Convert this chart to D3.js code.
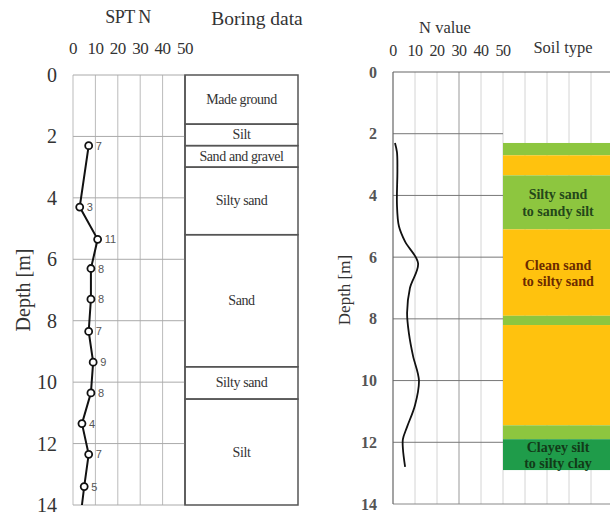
<!DOCTYPE html>
<html>
<head>
<style>
  body { margin: 0; background: #fff; }
</style>
</head>
<body>

<script src="https://cdn.jsdelivr.net/npm/d3@7"></script>
<script>

const width = 610;
const height = 515;
const serif = '"Liberation Serif", serif';

// SPT N profile (left)
const sptDepth = [2.3, 4.3, 5.35, 6.3, 7.3, 8.35, 9.35, 10.35, 11.35, 12.35, 13.4];
const sptN = [7, 3, 11, 8, 8, 7, 9, 8, 4, 7, 5];
const sptTail = {depth: 14, n: 4};

// boring log layers (left)
const boringTop = [0, 1.6, 2.3, 3.0, 5.2, 9.5, 10.55];
const boringBottom = [1.6, 2.3, 3.0, 5.2, 9.5, 10.55, 14];
const boringName = ['Made ground', 'Silt', 'Sand and gravel', 'Silty sand', 'Sand', 'Silty sand', 'Silt'];

// N value curve (right)
const nDepth = [2.3, 2.6, 3.2, 4.3, 5.0, 5.5, 6.2, 7.0, 7.8, 8.5, 9.2, 10.0, 10.8, 11.5, 11.9, 12.2, 12.8];
const nValue = [0.9, 1.8, 2.0, 1.8, 2.7, 5.5, 11.4, 7.7, 6.4, 7.3, 9.1, 11.8, 10.0, 6.4, 4.5, 4.5, 5.5];

// soil type column (right)
const soilTop = [2.3, 2.7, 3.35, 5.1, 7.9, 8.2, 11.45, 11.9];
const soilBottom = [2.7, 3.35, 5.1, 7.9, 8.2, 11.45, 11.9, 12.9];
const soilClass = ['silty', 'clean', 'silty', 'clean', 'silty', 'clean', 'silty', 'clay'];
const soilLabel = [
  [], [], ['Silty sand', 'to sandy silt'], ['Clean sand', 'to silty sand'],
  [], [], [], ['Clayey silt', 'to silty clay']
];

const depthTicks = d3.range(0, 15, 2);
const nTicks = [0, 10, 20, 30, 40, 50];

const soilFill = {silty: '#8dc63f', clean: '#ffc20e', clay: '#1f9c4a'};
const soilInk = {silty: '#24471a', clean: '#6b2a00', clay: '#123a18'};

const svg = d3.select('body')
              .append('svg')
              .attr('width', width)
              .attr('height', height);

// ---------- left panel ----------
const xL = d3.scaleLinear().domain([0, 50]).range([73, 185]);
const yL = d3.scaleLinear().domain([0, 14]).range([75, 505]);
const boxRight = 298;

const left = svg.append('g');

left.selectAll('.vgrid')
    .data(nTicks)
    .enter()
    .append('line')
    .attr('x1', d => xL(d)).attr('x2', d => xL(d))
    .attr('y1', yL(0)).attr('y2', yL(14))
    .attr('stroke', d => d === 50 ? '#555' : '#bbb')
    .attr('stroke-width', d => d === 50 ? 1.5 : 1);

left.selectAll('.hgrid')
    .data(depthTicks)
    .enter()
    .append('line')
    .attr('x1', xL(0)).attr('x2', xL(50))
    .attr('y1', d => yL(d)).attr('y2', d => yL(d))
    .attr('stroke', '#aaa');

// boring log boxes
const boring = boringName.map((name, i) => ({name, top: boringTop[i], bottom: boringBottom[i]}));

left.selectAll('.layer')
    .data(boring)
    .enter()
    .append('rect')
    .attr('x', xL(50))
    .attr('width', boxRight - xL(50))
    .attr('y', d => yL(d.top))
    .attr('height', d => yL(d.bottom) - yL(d.top))
    .attr('fill', 'none')
    .attr('stroke', '#555')
    .attr('stroke-width', 1.5);

left.selectAll('.layerText')
    .data(boring)
    .enter()
    .append('text')
    .attr('x', (xL(50) + boxRight) / 2)
    .attr('y', d => yL((d.top + d.bottom) / 2) + 4.5)
    .attr('text-anchor', 'middle')
    .attr('font-size', 14)
    .attr('letter-spacing', -0.4)
    .attr('fill', '#333')
    .style('font-family', serif)
    .text(d => d.name);

// SPT line
const spt = sptDepth.map((depth, i) => ({depth, n: sptN[i]}));

left.append('path')
    .datum(spt.concat([sptTail]))
    .attr('fill', 'none')
    .attr('stroke', '#111')
    .attr('stroke-width', 2)
    .attr('d', d3.line().x(d => xL(d.n)).y(d => yL(d.depth)));

left.selectAll('.pt')
    .data(spt)
    .enter()
    .append('circle')
    .attr('cx', d => xL(d.n))
    .attr('cy', d => yL(d.depth))
    .attr('r', 3.5)
    .attr('fill', '#fff')
    .attr('stroke', '#111')
    .attr('stroke-width', 1.8);

left.selectAll('.ptLabel')
    .data(spt)
    .enter()
    .append('text')
    .attr('x', d => xL(d.n) + 7)
    .attr('y', d => yL(d.depth) + 4)
    .attr('font-size', 11)
    .attr('fill', '#555')
    .style('font-family', '"Liberation Sans", sans-serif')
    .text(d => d.n);

// axes labels
left.selectAll('.depthLabel')
    .data(depthTicks)
    .enter()
    .append('text')
    .attr('x', 57)
    .attr('y', d => yL(d) + 7)
    .attr('text-anchor', 'end')
    .attr('font-size', 20)
    .attr('fill', '#333')
    .style('font-family', serif)
    .text(d => d);

left.selectAll('.nLabel')
    .data(nTicks)
    .enter()
    .append('text')
    .attr('x', d => xL(d))
    .attr('y', 54)
    .attr('text-anchor', 'middle')
    .attr('font-size', 17)
    .attr('letter-spacing', -0.5)
    .attr('fill', '#333')
    .style('font-family', serif)
    .text(d => d);

left.append('text')
    .attr('x', 128).attr('y', 23)
    .attr('text-anchor', 'middle')
    .attr('font-size', 18)
    .attr('letter-spacing', -0.5)
    .attr('fill', '#333')
    .style('font-family', serif)
    .text('SPT N');

left.append('text')
    .attr('x', 257).attr('y', 25)
    .attr('text-anchor', 'middle')
    .attr('font-size', 19.5)
    .attr('fill', '#333')
    .style('font-family', serif)
    .text('Boring data');

left.append('text')
    .attr('transform', 'translate(30,290) rotate(-90)')
    .attr('text-anchor', 'middle')
    .attr('font-size', 20)
    .attr('fill', '#333')
    .style('font-family', serif)
    .text('Depth [m]');

// ---------- right panel ----------
const xR = d3.scaleLinear().domain([0, 50]).range([393, 503]);
const yR = d3.scaleLinear().domain([0, 14]).range([72, 504]);
const right = svg.append('g');

// vertical grid runs across the soil column too
right.selectAll('.vgrid')
    .data(d3.range(10, 100, 10))
    .enter()
    .append('line')
    .attr('x1', d => xR(d)).attr('x2', d => xR(d))
    .attr('y1', yR(0)).attr('y2', yR(14))
    .attr('stroke', d => d === 30 ? '#999' : '#d4d4d4');

right.selectAll('.hgrid')
    .data(depthTicks.filter(d => d > 0 && d < 14))
    .enter()
    .append('line')
    .attr('x1', xR(0)).attr('x2', xR(50))
    .attr('y1', d => yR(d)).attr('y2', d => yR(d))
    .attr('stroke', '#777');

right.append('line')
    .attr('x1', xR(0)).attr('x2', width)
    .attr('y1', yR(0)).attr('y2', yR(0))
    .attr('stroke', '#666').attr('stroke-width', 1.2);
right.append('line')
    .attr('x1', xR(0)).attr('x2', width)
    .attr('y1', yR(14)).attr('y2', yR(14))
    .attr('stroke', '#888');
right.append('line')
    .attr('x1', xR(0)).attr('x2', xR(0))
    .attr('y1', yR(0)).attr('y2', yR(14))
    .attr('stroke', '#666').attr('stroke-width', 1.2);

// soil blocks
const soil = soilClass.map((c, i) => ({c, top: soilTop[i], bottom: soilBottom[i], label: soilLabel[i]}));

right.selectAll('.soil')
    .data(soil)
    .enter()
    .append('rect')
    .attr('x', xR(50))
    .attr('width', width - xR(50))
    .attr('y', d => yR(d.top))
    .attr('height', d => yR(d.bottom) - yR(d.top))
    .attr('fill', d => soilFill[d.c]);

const soilText = right.selectAll('.soilText')
    .data(soil.filter(d => d.label.length))
    .enter()
    .append('text')
    .attr('text-anchor', 'middle')
    .attr('font-size', 14)
    .attr('font-weight', 'bold')
    .attr('fill', d => soilInk[d.c])
    .style('font-family', serif);

soilText.selectAll('tspan')
    .data(d => d.label.map((t, i) => ({t, i, d})))
    .enter()
    .append('tspan')
    .attr('x', 558)
    .attr('y', e => yR((e.d.top + e.d.bottom) / 2) - 3 + e.i * 16.5)
    .text(e => e.t);

// N value curve
const nCurve = nDepth.map((depth, i) => ({depth, n: nValue[i]}));

right.append('path')
    .datum(nCurve)
    .attr('fill', 'none')
    .attr('stroke', '#111')
    .attr('stroke-width', 1.8)
    .attr('d', d3.line().curve(d3.curveCatmullRom).x(d => xR(d.n)).y(d => yR(d.depth)));

right.selectAll('.depthLabel')
    .data(depthTicks)
    .enter()
    .append('text')
    .attr('x', 377)
    .attr('y', d => yR(d) + 5.5)
    .attr('text-anchor', 'end')
    .attr('font-size', 16)
    .attr('font-weight', 'bold')
    .attr('fill', '#555')
    .style('font-family', serif)
    .text(d => d);

right.selectAll('.nLabel')
    .data(nTicks)
    .enter()
    .append('text')
    .attr('x', d => xR(d))
    .attr('y', 56)
    .attr('text-anchor', 'middle')
    .attr('font-size', 16)
    .attr('letter-spacing', -0.5)
    .attr('fill', '#333')
    .style('font-family', serif)
    .text(d => d);

right.append('text')
    .attr('x', 445).attr('y', 33)
    .attr('text-anchor', 'middle')
    .attr('font-size', 16.5)
    .attr('fill', '#333')
    .style('font-family', serif)
    .text('N value');

right.append('text')
    .attr('x', 563).attr('y', 53)
    .attr('text-anchor', 'middle')
    .attr('font-size', 16.5)
    .attr('fill', '#333')
    .style('font-family', serif)
    .text('Soil type');

right.append('text')
    .attr('transform', 'translate(350,290) rotate(-90)')
    .attr('text-anchor', 'middle')
    .attr('font-size', 17)
    .attr('fill', '#333')
    .style('font-family', serif)
    .text('Depth [m]');

</script>
</body>
</html>
